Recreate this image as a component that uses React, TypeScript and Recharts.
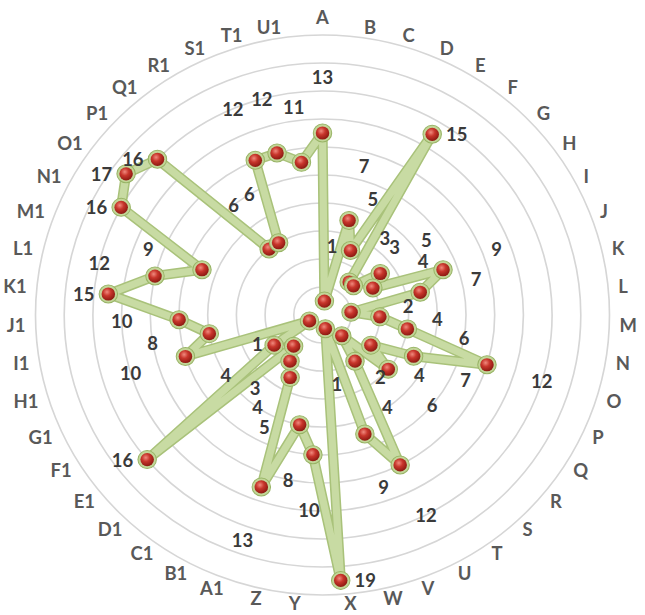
import { PolarAngleAxis, PolarGrid, PolarRadiusAxis, Radar, RadarChart } from "recharts";

const categories = [
  "A", "B", "C", "D", "E", "F", "G", "H", "I", "J", "K", "L", "M", "N", "O", "P", "Q", "R", "S", "T", "U", "V", "W", "X", "Y", "Z",
  "A1", "B1", "C1", "D1", "E1", "F1", "G1", "H1", "I1", "J1", "K1", "L1", "M1", "N1", "O1", "P1", "Q1", "R1", "S1", "T1", "U1",
];
const values = [
  13, 1, 7, 5, 15, 3, 3, 5, 4, 9, 7, 2, 4, 6, 12, 7, 4, 6, 2, 4, 12, 9, 1, 19, 10, 8,
  13, 5, 4, 3, 16, 4, 1, 10, 8, 10, 15, 12, 9, 16, 17, 16, 6, 6, 12, 12, 11,
];
const radiusDomain = [0, 20];

const CX = 322.5;
const CY = 315;
const OUTER = 280;
const LABEL_R = 288;
const BIG = 13;

const data = categories.map((category, i) => ({ category, value: values[i] }));

// small values get their label a few units further out, big ones sit beside the marker
const labelRadius = (d: { value: number }) => (d.value > BIG ? d.value : d.value + 4);

function CategoryTick(props: any) {
  const { x, y, payload, index } = props;
  const dx = x - CX, dy = y - CY;
  const len = Math.hypot(dx, dy) || 1;
  const ux = dx / len, uy = dy / len;
  const text = String(payload.value);
  const anchor = ux > 0.02 ? "start" : ux < -0.02 ? "end" : "middle";
  const tx = CX + ux * LABEL_R + (anchor === "start" ? 2 : anchor === "end" ? -2 : 0);
  const ty = CY + uy * LABEL_R + (anchor === "middle" && uy < 0 ? -10 : uy < 0 ? uy * 2 : uy);
  return <text key={`cat-${index}`} x={tx} y={ty} textAnchor={anchor} dominantBaseline="central"
    fill="#595959" fontSize={18} fontWeight={700} fontFamily="Lato, 'Open Sans', sans-serif">{text}</text>;
}

function renderBall(props: any) {
  const { cx, cy, index } = props;
  return <g key={`ball-${index}`}>
    <circle cx={cx} cy={cy} r={9} fill="#c2d698" stroke="#98b466" strokeWidth={1} />
    <circle cx={cx} cy={cy} r={6.6} fill="url(#ballGrad)" />
  </g>;
}

function renderValueLabel(props: any) {
  const { cx, cy, payload, index } = props;
  const row = payload?.payload ?? payload;
  const v = row.value;
  const x = v > BIG ? cx + (cx >= CX ? 24 : -24) : cx;
  return <text key={`val-${index}`} x={x} y={cy} textAnchor="middle" dominantBaseline="central"
    fill="#3a3a3a" fontSize={18} fontWeight={700} fontFamily="Lato, 'Open Sans', sans-serif">{v}</text>;
}

export default function App() {
  return <div style={{ position: "absolute", left: 0, top: 0, width: 645, height: 615, overflow: "hidden", background: "#fff" }}>
    <div style={{ transform: "scaleX(1.025)", transformOrigin: `${CX}px 0px` }}>
      <RadarChart width={645} height={615} data={data} cx={CX} cy={CY} outerRadius={OUTER} margin={{ top: 0, right: 0, bottom: 0, left: 0 }}>
        <defs>
          <radialGradient id="ballGrad" cx="40%" cy="35%" r="65%">
            <stop offset="0%" stopColor="#f08a7e" />
            <stop offset="45%" stopColor="#c8362c" />
            <stop offset="100%" stopColor="#8e1a12" />
          </radialGradient>
        </defs>
        <PolarGrid gridType="circle" radialLines={false} stroke="#d6d6d6" strokeWidth={1.6} />
        <PolarRadiusAxis domain={radiusDomain} tickCount={11} tick={false} axisLine={false} />
        <PolarAngleAxis dataKey="category" tick={CategoryTick} tickLine={false} axisLine={false} />
        <Radar dataKey="value" stroke="#a9c27a" strokeWidth={10} fill="none" strokeLinejoin="round" dot={false} isAnimationActive={false} />
        <Radar dataKey="value" stroke="#c8dba3" strokeWidth={7} fill="none" strokeLinejoin="round" dot={renderBall} isAnimationActive={false} />
        <Radar dataKey={labelRadius} stroke="none" fill="none" dot={renderValueLabel} isAnimationActive={false} />
      </RadarChart>
    </div>
  </div>;
}
